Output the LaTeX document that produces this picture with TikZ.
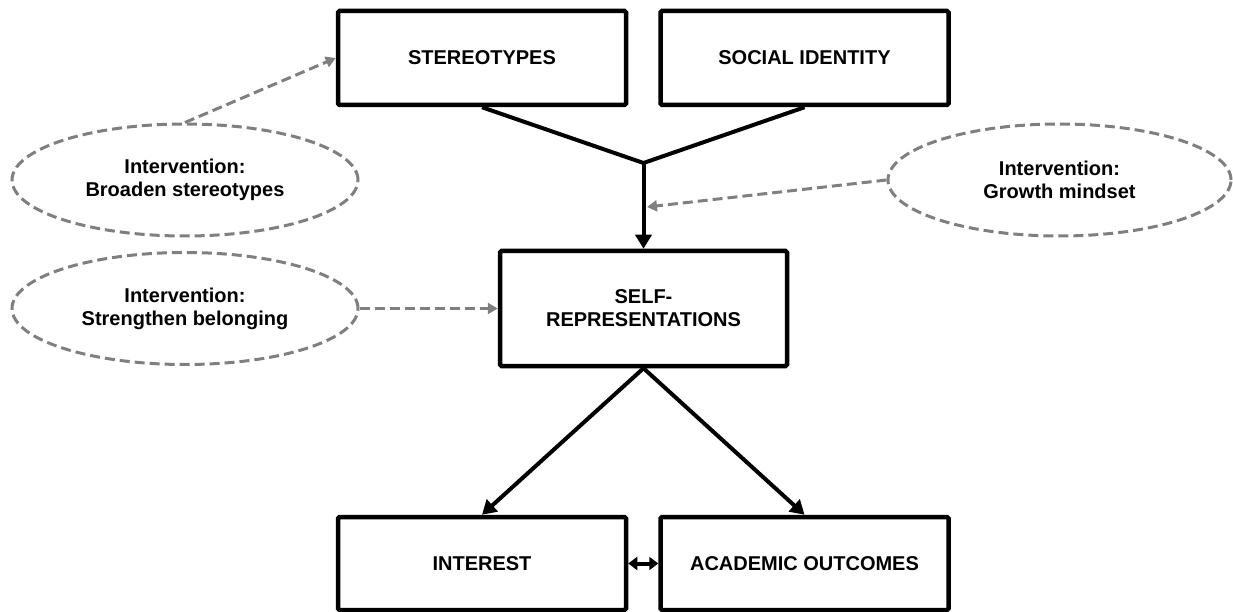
\documentclass[tikz,border=0pt]{standalone}
\usepackage{fontspec}
\setmainfont{Liberation Sans}
\usetikzlibrary{arrows.meta,shapes.geometric}
\definecolor{dashgray}{HTML}{7F7F7F}
\begin{document}
\begin{tikzpicture}[x=1bp,y=-1bp,
  txt/.style={font=\bfseries\fontsize{20bp}{23bp}\selectfont},
  box/.style={txt, draw, line width=4.5bp, rounded corners=1.5bp, minimum width=288bp,
    minimum height=94bp, inner sep=0pt, align=center},
  interv/.style={txt, draw=dashgray, dash pattern=on 10bp off 5bp, line width=3bp, ellipse,
    minimum width=346bp, minimum height=112bp, inner sep=0pt, align=center},
  conn/.style={line width=4bp, line join=miter},
  link/.style={conn, -{Triangle[length=14bp,width=16bp]}},
  dbl/.style={line width=4bp, {Triangle[length=9bp,width=13bp]}-{Triangle[length=9bp,width=13bp]}},
  glink/.style={draw=dashgray, line width=3bp, dash pattern=on 10bp off 5bp,
    -{Triangle[length=10bp,width=11bp]}}
]
\useasboundingbox (0,0) rectangle (1233,612);

\node[box] (ster) at (482,58) {STEREOTYPES};
\node[box] (soc) at (804.5,58) {SOCIAL IDENTITY};
\node[box, minimum width=287bp, minimum height=115bp] (self) at (643.5,308.5) {SELF-\\REPRESENTATIONS};
\node[box, minimum height=93bp] (int) at (482,563.5) {INTEREST};
\node[box, minimum height=93bp] (acad) at (804.5,563.5) {ACADEMIC OUTCOMES};

\node[interv] (e1) at (185,180) {Intervention:\\Broaden stereotypes};
\node[interv, minimum width=343bp] (e3) at (1059.5,180) {Intervention:\\Growth mindset};
\node[interv] (e2) at (185,308.5) {Intervention:\\Strengthen belonging};

\coordinate (j) at (643.5,163);
\coordinate (g) at (647,207);

\draw[conn] (ster.south) -- (j) -- (soc.south);
\draw[link] (j) -- (self.north);
\draw[link] (self.south) -- (int.north);
\draw[link] (self.south) -- (acad.north);
\draw[dbl] (int.east) -- (acad.west);

\draw[glink] (e1.north) -- (ster.west);
\draw[glink] (e3.west) -- (g);
\draw[glink] (e2.east) -- (self.west);
\end{tikzpicture}
\end{document}
